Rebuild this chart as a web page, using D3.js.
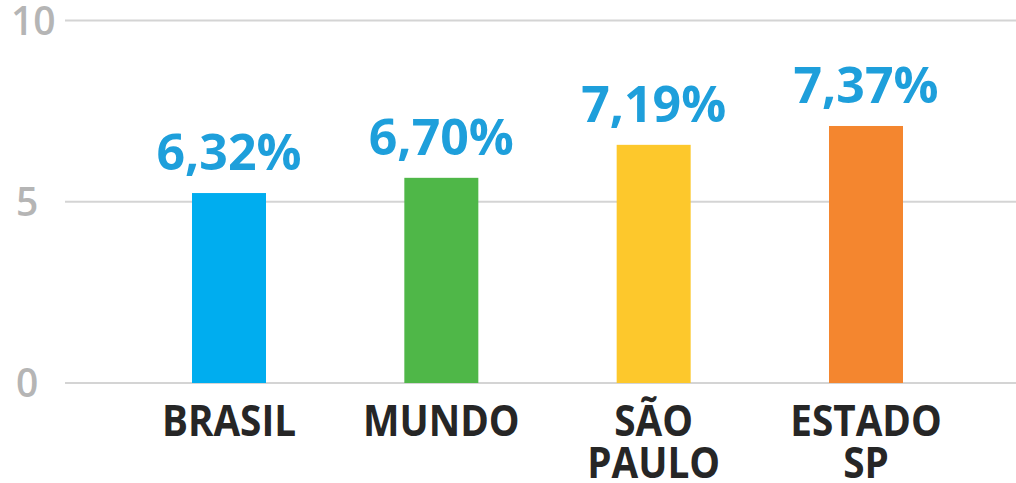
<!DOCTYPE html>
<html>
<head>
<meta charset="utf-8">
<script src="https://cdn.jsdelivr.net/npm/d3@7"></script>
<style>
  body { margin: 0; background: #fff; }
  svg { display: block; }
  .tick-label { font-family: "Open Sans", sans-serif; font-weight: 600; fill: #b5b5b5; }
  .value-label { font-family: "Open Sans", sans-serif; font-weight: 700; fill: #1e9fdb; }
  .cat-label { font-family: "Open Sans", sans-serif; font-weight: 700; fill: #262626; }
</style>
</head>
<body>
<div id="chart"></div>
<script>
// values (bar heights as drawn, labels as printed)
const categories = [["BRASIL"], ["MUNDO"], ["SÃO", "PAULO"], ["ESTADO", "SP"]];
const barValues = [5.24, 5.66, 6.57, 7.09];
const valueLabels = ["6,32%", "6,70%", "7,19%", "7,37%"];
const barColors = ["#00adef", "#4fb748", "#fdc82c", "#f4862f"];
const yTicks = [0, 5, 10];

const width = 1016, height = 483;

const svg = d3.select("#chart").append("svg")
    .attr("width", width)
    .attr("height", height);

const yScale = d3.scaleLinear().domain([0, 10]).range([383, 20.5]);
const xScale = d3.scalePoint().domain(d3.range(categories.length)).range([229, 866]);
const barWidth = 74;

// grid lines + tick labels
const grid = svg.append("g");
yTicks.forEach(t => {
    grid.append("line")
        .attr("x1", 65)
        .attr("x2", width)
        .attr("y1", yScale(t))
        .attr("y2", yScale(t))
        .attr("stroke", "#d4d4d4")
        .attr("stroke-width", 2);
    grid.append("text")
        .attr("class", "tick-label")
        .attr("x", t == 10 ? 11 : 16)
        .attr("y", yScale(t))
        .attr("dy", "0.36em")
        .style("font-size", "39px")
        .text(t);
});

// bars
svg.selectAll(".bar")
    .data(barValues)
    .enter()
    .append("rect")
    .attr("class", "bar")
    .attr("x", (d, i) => xScale(i) - barWidth / 2)
    .attr("y", d => yScale(d))
    .attr("width", barWidth)
    .attr("height", d => yScale(0) - yScale(d))
    .attr("fill", (d, i) => barColors[i]);

// value labels above bars
svg.selectAll(".value-label")
    .data(barValues)
    .enter()
    .append("text")
    .attr("class", "value-label")
    .attr("x", (d, i) => xScale(i))
    .attr("y", d => yScale(d) - 23)
    .attr("text-anchor", "middle")
    .style("font-size", "50px")
    .text((d, i) => valueLabels[i]);

// category labels, a bit condensed like the original
categories.forEach((lines, i) => {
    const g = svg.append("g")
        .attr("transform", `translate(${xScale(i)},436) scale(0.9,1)`);
    const t = g.append("text")
        .attr("class", "cat-label")
        .attr("text-anchor", "middle")
        .style("font-size", "43px");
    lines.forEach((line, j) => {
        t.append("tspan")
            .attr("x", 0)
            .attr("y", j * 42)
            .text(line);
    });
});
</script>
</body>
</html>
